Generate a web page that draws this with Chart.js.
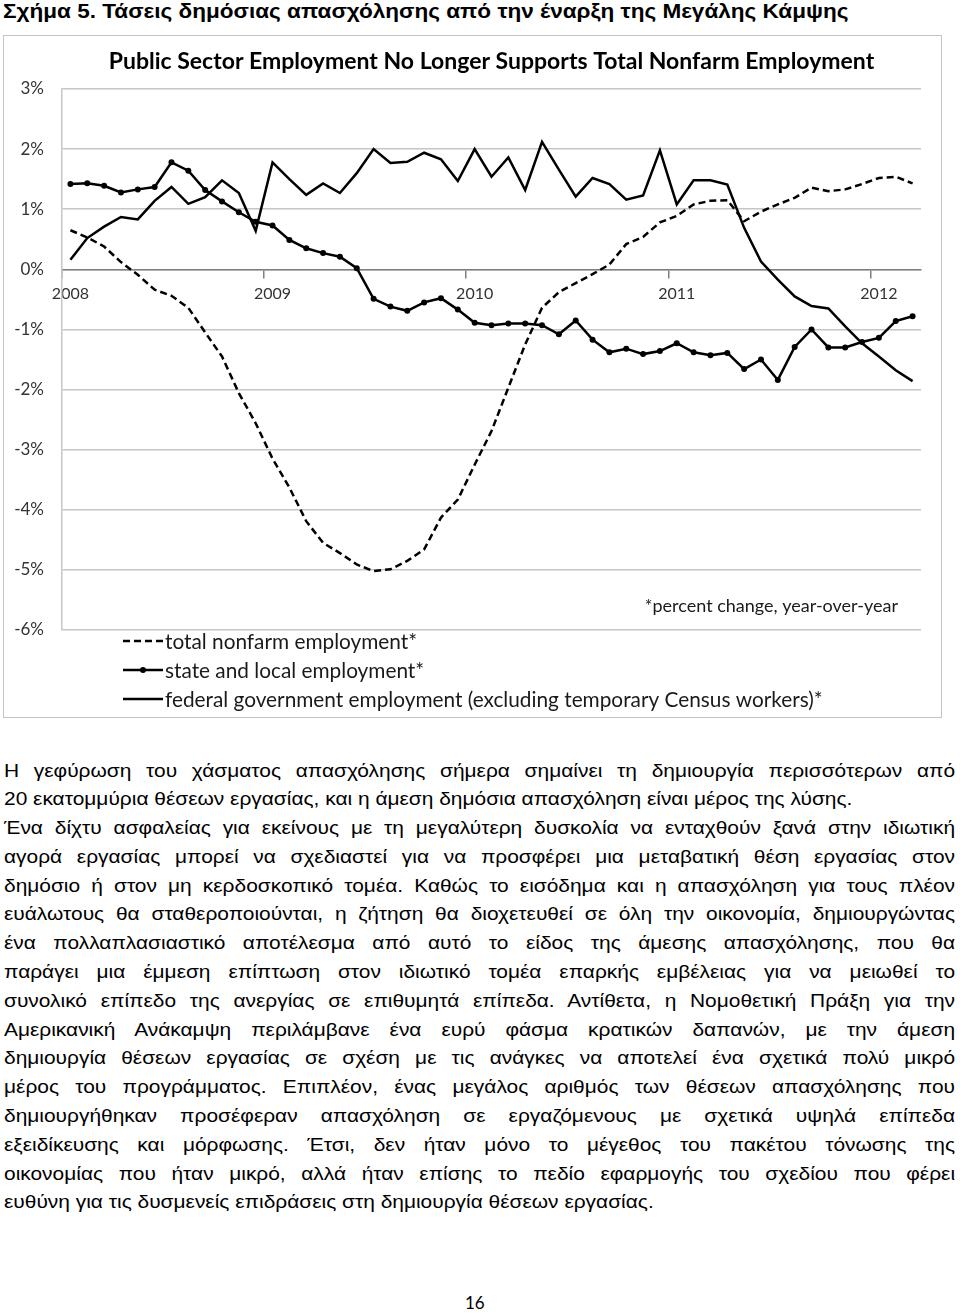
<!DOCTYPE html>
<html>
<head>
<meta charset="utf-8">
<script src="https://cdn.jsdelivr.net/npm/chart.js@4.4.1/dist/chart.umd.min.js"></script>
<style>
  body { margin: 0; width: 960px; height: 1313px; position: relative; background: #fff; overflow: hidden;
         font-family: "Liberation Sans", Arial, sans-serif; color: #000; }
  #fig { position: absolute; left: 3px; top: -1px; font-weight: bold; font-size: 20px; line-height: 24px; white-space: nowrap;
         transform: scaleX(1.127); transform-origin: 0 0; }
  #box { position: absolute; left: 3px; top: 35px; width: 939px; height: 683px; box-sizing: border-box; border: 1px solid #c4c4c4; }
  #box canvas { position: absolute; left: 0; top: 0; }
  #txt { position: absolute; left: 4px; top: 756.5px; width: 827px; font-size: 18.2px; line-height: 28.8px;
         transform: scaleX(1.15); transform-origin: 0 0; }
  #txt div { text-align: justify; text-align-last: justify; white-space: nowrap; }
  #txt div.last { text-align-last: left; }
  #pg { position: absolute; left: 465px; top: 1292px; font-family: Lato, sans-serif; font-size: 17px; }
</style>
</head>
<body>
<div id="fig">Σχήμα 5. Τάσεις δημόσιας απασχόλησης από την έναρξη της Μεγάλης Κάμψης</div>
<div id="box"><canvas id="grafico" width="937" height="681"></canvas></div>
<div id="txt">
  <div>Η γεφύρωση του χάσματος απασχόλησης σήμερα σημαίνει τη δημιουργία περισσότερων από</div>
  <div class="last">20 εκατομμύρια θέσεων εργασίας, και η άμεση δημόσια απασχόληση είναι μέρος της λύσης.</div>
  <div>Ένα δίχτυ ασφαλείας για εκείνους με τη μεγαλύτερη δυσκολία να ενταχθούν ξανά στην ιδιωτική</div>
  <div>αγορά εργασίας μπορεί να σχεδιαστεί για να προσφέρει μια μεταβατική θέση εργασίας στον</div>
  <div>δημόσιο ή στον μη κερδοσκοπικό τομέα. Καθώς το εισόδημα και η απασχόληση για τους πλέον</div>
  <div>ευάλωτους θα σταθεροποιούνται, η ζήτηση θα διοχετευθεί σε όλη την οικονομία, δημιουργώντας</div>
  <div>ένα πολλαπλασιαστικό αποτέλεσμα από αυτό το είδος της άμεσης απασχόλησης, που θα</div>
  <div>παράγει μια έμμεση επίπτωση στον ιδιωτικό τομέα επαρκής εμβέλειας για να μειωθεί το</div>
  <div>συνολικό επίπεδο της ανεργίας σε επιθυμητά επίπεδα. Αντίθετα, η Νομοθετική Πράξη για την</div>
  <div>Αμερικανική Ανάκαμψη περιλάμβανε ένα ευρύ φάσμα κρατικών δαπανών, με την άμεση</div>
  <div>δημιουργία θέσεων εργασίας σε σχέση με τις ανάγκες να αποτελεί ένα σχετικά πολύ μικρό</div>
  <div>μέρος του προγράμματος. Επιπλέον, ένας μεγάλος αριθμός των θέσεων απασχόλησης που</div>
  <div>δημιουργήθηκαν προσέφεραν απασχόληση σε εργαζόμενους με σχετικά υψηλά επίπεδα</div>
  <div>εξειδίκευσης και μόρφωσης. Έτσι, δεν ήταν μόνο το μέγεθος του πακέτου τόνωσης της</div>
  <div>οικονομίας που ήταν μικρό, αλλά ήταν επίσης το πεδίο εφαρμογής του σχεδίου που φέρει</div>
  <div class="last">ευθύνη για τις δυσμενείς επιδράσεις στη δημιουργία θέσεων εργασίας.</div>
</div>
<div id="pg">16</div>

<script>
// Data: year-over-year % change, monthly, Jan 2008 - Mar 2012
const years = [2008, 2009, 2010, 2011, 2012];
const months = ['Jan', 'Feb', 'Mar', 'Apr', 'May', 'Jun', 'Jul', 'Aug', 'Sep', 'Oct', 'Nov', 'Dec'];
const yearTicks = ['2008', '2009', '2010', '2011', '2012'];

const totalNonfarm = [
  0.65, 0.53, 0.38, 0.12, -0.09, -0.34, -0.44, -0.64, -1.05, -1.45, -2.06, -2.56,
  -3.15, -3.63, -4.19, -4.55, -4.72, -4.91, -5.02, -4.99, -4.85, -4.66, -4.13, -3.83,
  -3.25, -2.69, -1.97, -1.25, -0.64, -0.38, -0.23, -0.08, 0.08, 0.42, 0.54, 0.78,
  0.89, 1.08, 1.14, 1.15, 0.80, 0.96, 1.08, 1.19, 1.36, 1.30, 1.33, 1.42,
  1.52, 1.54, 1.43
];
const stateLocal = [
  1.42, 1.43, 1.39, 1.28, 1.33, 1.37, 1.78, 1.64, 1.32, 1.13, 0.95, 0.79,
  0.73, 0.49, 0.35, 0.27, 0.21, 0.02, -0.49, -0.62, -0.69, -0.55, -0.48, -0.67,
  -0.89, -0.93, -0.90, -0.90, -0.93, -1.08, -0.85, -1.17, -1.38, -1.32, -1.41, -1.36,
  -1.23, -1.38, -1.43, -1.39, -1.66, -1.50, -1.84, -1.29, -1.00, -1.30, -1.30, -1.21,
  -1.14, -0.86, -0.78
];
const federal = [
  0.16, 0.52, 0.71, 0.87, 0.83, 1.14, 1.37, 1.09, 1.20, 1.48, 1.27, 0.64,
  1.78, 1.50, 1.24, 1.43, 1.27, 1.60, 2.00, 1.77, 1.79, 1.94, 1.83, 1.47,
  2.00, 1.54, 1.86, 1.32, 2.12, 1.66, 1.21, 1.52, 1.42, 1.16, 1.23, 1.98,
  1.08, 1.48, 1.48, 1.41, 0.69, 0.13, -0.17, -0.45, -0.61, -0.65, -0.95, -1.23,
  -1.45, -1.68, -1.86
];

// etiquetas de categoría (un mes por punto)
const categories = [];
years.forEach(y => months.forEach(m => categories.push(m + ' ' + y)));
categories.length = totalNonfarm.length;

const seriesNames = [
  'total nonfarm employment*',
  'state and local employment*',
  'federal government employment (excluding temporary Census workers)*'
];
const chartTitle = 'Public Sector Employment No Longer Supports Total Nonfarm Employment';
const noteText = '*percent change, year-over-year';

// Leyenda vertical y nota dibujadas debajo / dentro del área del gráfico
const legendaPlugin = {
  id: 'legendaVertical',
  afterDraw(chart) {
    const { ctx, chartArea } = chart;
    ctx.save();
    ctx.fillStyle = '#1a1a1a';
    ctx.font = '18px Lato';
    ctx.textAlign = 'right';
    ctx.textBaseline = 'middle';
    ctx.fillText(noteText, chartArea.right - 23, chartArea.bottom - 24);

    ctx.font = '20.8px Lato';
    chart.data.datasets.forEach((ds, i) => {
      const y = chartArea.bottom + 11 + i * 29;
      const x0 = chartArea.left + 61;
      ctx.beginPath();
      ctx.setLineDash(ds.borderDash || []);
      ctx.lineWidth = ds.borderWidth;
      ctx.strokeStyle = ds.borderColor;
      ctx.moveTo(x0, y);
      ctx.lineTo(x0 + 40, y);
      ctx.stroke();
      ctx.setLineDash([]);
      if (ds.pointRadius > 0) {
        ctx.beginPath();
        ctx.fillStyle = ds.pointBackgroundColor;
        ctx.arc(x0 + 20, y, ds.pointRadius, 0, Math.PI * 2);
        ctx.fill();
      }
      ctx.fillStyle = '#1a1a1a';
      ctx.textAlign = 'left';
      ctx.fillText(ds.label, x0 + 42, y + 1);
    });
    ctx.restore();
  }
};

const ctx = document.getElementById('grafico');
new Chart(ctx, {
  type: 'line',
  data: {
    labels: categories,
    datasets: [
      {
        label: seriesNames[0],
        data: totalNonfarm,
        borderColor: '#000',
        borderWidth: 2.5,
        borderDash: [7, 4],
        pointRadius: 0,
        tension: 0
      },
      {
        label: seriesNames[1],
        data: stateLocal,
        borderColor: '#000',
        borderWidth: 2.5,
        pointRadius: 3,
        pointBackgroundColor: '#000',
        pointBorderWidth: 0,
        tension: 0
      },
      {
        label: seriesNames[2],
        data: federal,
        borderColor: '#000',
        borderWidth: 2.5,
        pointRadius: 0,
        tension: 0
      }
    ]
  },
  options: {
    responsive: false,
    animation: false,
    devicePixelRatio: 1,
    layout: { padding: { left: 0, right: 20, top: 0, bottom: 87 } },
    plugins: {
      legend: { display: false },
      tooltip: { enabled: false },
      title: {
        display: true,
        fullSize: false,
        text: chartTitle,
        color: '#000',
        font: { family: 'Lato', size: 23, weight: 'bold' },
        padding: { top: 12, bottom: 13.4 }
      }
    },
    scales: {
      x: {
        type: 'category',
        position: { y: 0 },
        offset: true,
        grid: {
          offset: true,
          drawOnChartArea: false,
          drawTicks: true,
          tickLength: 8,
          lineWidth: 1.5,
          color: c => (c.index % 12 === 0 ? '#7f7f7f' : 'rgba(0,0,0,0)')
        },
        border: { color: '#7f7f7f', width: 1.5 },
        ticks: {
          autoSkip: false,
          maxRotation: 0,
          padding: 7,
          color: '#333',
          font: { family: 'Lato', size: 16 },
          callback: (v, i) => (i % 12 === 0 ? yearTicks[i / 12] : '')
        }
      },
      y: {
        min: -6,
        max: 3,
        ticks: {
          stepSize: 1,
          padding: 18,
          color: '#333',
          font: { family: 'Lato', size: 17 },
          callback: v => v + '%'
        },
        grid: { color: '#c6c6c6', lineWidth: 1.5, drawTicks: false },
        border: { color: '#c6c6c6', width: 1.5 },
        afterFit: s => { s.width = 58; }
      }
    }
  },
  plugins: [legendaPlugin]
});
</script>
</body>
</html>
